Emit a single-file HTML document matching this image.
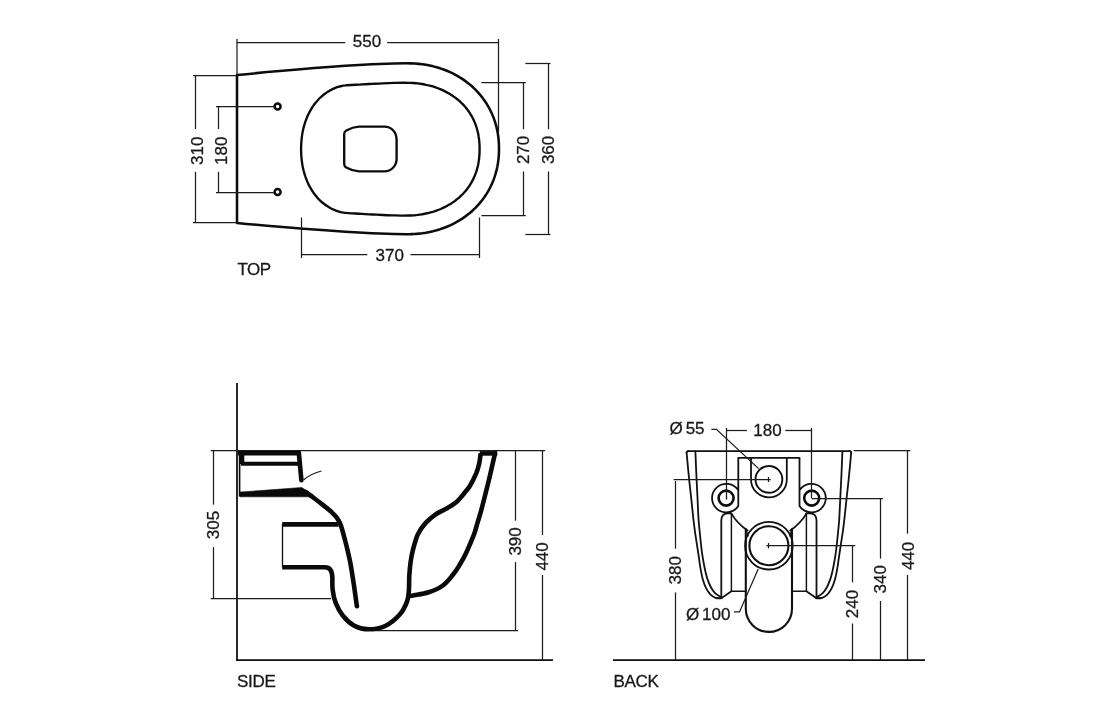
<!DOCTYPE html>
<html><head><meta charset="utf-8"><title>WC technical drawing</title>
<style>
html,body{margin:0;padding:0;background:#fff;}
body{width:1120px;height:721px;overflow:hidden;}
svg{display:block;}
text{font-family:"Liberation Sans",sans-serif;fill:#181818;stroke:#181818;stroke-width:0.3px;}
svg{will-change:transform;}
</style></head><body>
<svg width="1120" height="721" viewBox="0 0 1120 721">
<rect width="1120" height="721" fill="#ffffff"/>
<path d="M237,75 Q356.4,63.3 406.5,63.3 L410.74,63.36 L414.69,63.55 L418.54,63.86 L422.31,64.30 L426.01,64.86 L429.64,65.55 L433.22,66.36 L436.73,67.29 L440.17,68.34 L443.55,69.51 L446.87,70.79 L450.10,72.19 L453.27,73.71 L456.35,75.34 L459.35,77.07 L462.26,78.92 L465.09,80.87 L467.82,82.92 L470.46,85.07 L473.00,87.32 L475.43,89.67 L477.76,92.10 L479.98,94.63 L482.09,97.24 L484.09,99.93 L485.97,102.70 L487.73,105.55 L489.37,108.47 L490.89,111.46 L492.28,114.52 L493.55,117.64 L494.68,120.83 L495.69,124.07 L496.56,127.37 L497.31,130.73 L497.92,134.15 L498.39,137.63 L498.73,141.18 L498.93,144.84 L499.00,148.75 L498.93,152.66 L498.73,156.32 L498.39,159.87 L497.92,163.35 L497.31,166.77 L496.56,170.13 L495.69,173.43 L494.68,176.67 L493.55,179.86 L492.28,182.98 L490.89,186.04 L489.37,189.03 L487.73,191.95 L485.97,194.80 L484.09,197.57 L482.09,200.26 L479.98,202.87 L477.76,205.40 L475.43,207.83 L473.00,210.18 L470.46,212.43 L467.82,214.58 L465.09,216.63 L462.26,218.58 L459.35,220.43 L456.35,222.16 L453.27,223.79 L450.10,225.31 L446.87,226.71 L443.55,227.99 L440.17,229.16 L436.73,230.21 L433.22,231.14 L429.64,231.95 L426.01,232.64 L422.31,233.20 L418.54,233.64 L414.69,233.95 L410.74,234.14 L406.50,234.20 Q356.4,234.2 237,223 Z" stroke="#0c0c0c" stroke-width="2.55" fill="none" stroke-linejoin="round" stroke-linecap="round"/>
<path d="M301.1,149.1 C301.1,147.7 301.1,146.1 301.2,144.7 C301.2,143.3 301.3,141.9 301.5,140.6 C301.6,139.2 301.7,137.9 301.9,136.6 C302.1,135.3 302.3,134.0 302.5,132.7 C302.7,131.4 303.0,130.2 303.3,128.9 C303.6,127.7 303.9,126.4 304.3,125.2 C304.6,124.0 305.0,122.8 305.4,121.6 C305.8,120.5 306.2,119.3 306.7,118.2 C307.1,117.1 307.6,115.9 308.1,114.9 C308.6,113.8 309.2,112.7 309.7,111.7 C310.3,110.6 310.9,109.6 311.5,108.6 C312.1,107.6 312.7,106.7 313.4,105.7 C314.0,104.8 314.7,103.9 315.4,103.0 C316.1,102.1 316.9,101.2 317.6,100.4 C318.3,99.6 319.1,98.8 319.9,98.0 C320.7,97.2 321.5,96.5 322.3,95.8 C323.1,95.1 324.0,94.4 324.9,93.8 C325.7,93.1 326.6,92.5 327.5,92.0 C328.4,91.4 329.3,90.8 330.2,90.3 C331.2,89.8 332.1,89.4 333.1,88.9 C334.0,88.5 335.0,88.1 336.0,87.7 C337.0,87.3 338.0,87.0 339.0,86.7 C340.0,86.4 341.0,86.2 342.1,85.9 C343.1,85.7 341.9,85.6 345.3,85.4 C348.6,85.1 357.4,84.7 362.0,84.4 C366.6,84.1 369.1,84.0 372.6,83.8 C376.1,83.6 379.3,83.4 383.0,83.3 C386.7,83.2 391.3,83.0 394.8,82.9 C398.3,82.8 401.5,82.7 403.9,82.7 C406.3,82.7 407.4,82.7 409.0,82.8 C410.6,82.8 412.1,82.9 413.5,83.0 C415.0,83.1 416.4,83.3 417.8,83.4 C419.2,83.6 420.6,83.8 421.9,84.0 C423.3,84.2 424.6,84.5 425.9,84.8 C427.2,85.0 428.5,85.3 429.8,85.7 C431.1,86.0 432.3,86.4 433.6,86.7 C434.8,87.1 436.0,87.5 437.2,88.0 C438.4,88.4 439.6,88.9 440.7,89.3 C441.9,89.8 443.0,90.3 444.1,90.9 C445.2,91.4 446.3,92.0 447.4,92.6 C448.4,93.1 449.5,93.8 450.5,94.4 C451.5,95.0 452.5,95.7 453.5,96.4 C454.5,97.0 455.4,97.8 456.3,98.5 C457.3,99.2 458.2,100.0 459.1,100.7 C459.9,101.5 460.8,102.3 461.6,103.1 C462.5,103.9 463.3,104.8 464.0,105.6 C464.8,106.5 465.6,107.4 466.3,108.2 C467.0,109.1 467.7,110.1 468.4,111.0 C469.0,111.9 469.7,112.9 470.3,113.9 C470.9,114.8 471.5,115.8 472.0,116.8 C472.6,117.9 473.1,118.9 473.6,119.9 C474.1,121.0 474.6,122.0 475.0,123.1 C475.4,124.2 475.8,125.3 476.2,126.4 C476.6,127.5 476.9,128.7 477.2,129.8 C477.6,131.0 477.8,132.1 478.1,133.3 C478.3,134.5 478.6,135.7 478.7,136.9 C478.9,138.2 479.1,139.4 479.2,140.7 C479.3,142.0 479.4,143.2 479.5,144.7 C479.6,146.1 479.6,147.7 479.6,149.1 C479.6,150.6 479.6,152.2 479.5,153.6 C479.4,155.1 479.3,156.3 479.2,157.6 C479.1,158.9 478.9,160.1 478.7,161.4 C478.6,162.6 478.3,163.8 478.1,165.0 C477.8,166.2 477.6,167.3 477.2,168.5 C476.9,169.6 476.6,170.8 476.2,171.9 C475.8,173.0 475.4,174.1 475.0,175.2 C474.6,176.3 474.1,177.3 473.6,178.4 C473.1,179.4 472.6,180.4 472.0,181.5 C471.5,182.5 470.9,183.5 470.3,184.4 C469.7,185.4 469.0,186.4 468.4,187.3 C467.7,188.2 467.0,189.2 466.3,190.1 C465.6,190.9 464.8,191.8 464.0,192.7 C463.3,193.5 462.5,194.4 461.6,195.2 C460.8,196.0 459.9,196.8 459.1,197.6 C458.2,198.3 457.3,199.1 456.3,199.8 C455.4,200.5 454.5,201.3 453.5,201.9 C452.5,202.6 451.5,203.3 450.5,203.9 C449.5,204.5 448.4,205.2 447.4,205.7 C446.3,206.3 445.2,206.9 444.1,207.4 C443.0,208.0 441.9,208.5 440.7,209.0 C439.6,209.4 438.4,209.9 437.2,210.3 C436.0,210.8 434.8,211.2 433.6,211.6 C432.3,211.9 431.1,212.3 429.8,212.6 C428.5,213.0 427.2,213.3 425.9,213.5 C424.6,213.8 423.3,214.1 421.9,214.3 C420.6,214.5 419.2,214.7 417.8,214.9 C416.4,215.0 415.0,215.2 413.5,215.3 C412.1,215.4 410.6,215.5 409.0,215.5 C407.4,215.6 406.3,215.6 403.9,215.6 C401.5,215.6 398.3,215.5 394.8,215.4 C391.3,215.3 386.7,215.2 383.0,215.0 C379.3,214.8 376.1,214.7 372.6,214.5 C369.1,214.3 366.6,214.2 362.0,213.9 C357.4,213.6 348.6,213.2 345.3,212.9 C341.9,212.7 343.1,212.6 342.1,212.4 C341.0,212.1 340.0,211.9 339.0,211.6 C338.0,211.3 337.0,211.0 336.0,210.6 C335.0,210.2 334.0,209.8 333.1,209.4 C332.1,208.9 331.2,208.5 330.2,208.0 C329.3,207.5 328.4,206.9 327.5,206.3 C326.6,205.8 325.7,205.2 324.9,204.5 C324.0,203.9 323.1,203.2 322.3,202.5 C321.5,201.8 320.7,201.1 319.9,200.3 C319.1,199.5 318.3,198.7 317.6,197.9 C316.9,197.1 316.1,196.2 315.4,195.3 C314.7,194.4 314.0,193.5 313.4,192.6 C312.7,191.6 312.1,190.7 311.5,189.7 C310.9,188.7 310.3,187.7 309.7,186.6 C309.2,185.6 308.6,184.5 308.1,183.4 C307.6,182.4 307.1,181.2 306.7,180.1 C306.2,179.0 305.8,177.8 305.4,176.7 C305.0,175.5 304.6,174.3 304.3,173.1 C303.9,171.9 303.6,170.6 303.3,169.4 C303.0,168.1 302.7,166.9 302.5,165.6 C302.3,164.3 302.1,163.0 301.9,161.7 C301.7,160.4 301.6,159.1 301.5,157.7 C301.3,156.4 301.2,155.0 301.2,153.6 C301.1,152.2 301.1,150.6 301.1,149.1 Z" stroke="#0c0c0c" stroke-width="2.35" fill="none" stroke-linejoin="round" stroke-linecap="round"/>
<path d="M358.9,126.6 L384.4,126.6 C391.2,126.6 396.6,132 396.6,140 L396.6,158.8 C396.6,166 391.2,171.4 384.4,171.4 L358.9,171.4 C354,171.2 350,169.6 346.3,167.5 C344.8,166.6 344.2,165.8 344.2,164 L344.2,134 C344.2,132.2 344.8,131.4 346.3,130.5 C350,128.4 354,126.8 358.9,126.6 Z" stroke="#0c0c0c" stroke-width="2.35" fill="none" stroke-linejoin="round" stroke-linecap="round"/>
<circle cx="277.6" cy="106.6" r="3.0" stroke="#0c0c0c" stroke-width="2.5" fill="none"/>
<circle cx="277.6" cy="192" r="3.0" stroke="#0c0c0c" stroke-width="2.5" fill="none"/>
<line x1="237.0" y1="39.0" x2="237.0" y2="75.0" stroke="#1c1c1c" stroke-width="1.25" fill="none"/>
<line x1="498.5" y1="39.0" x2="498.5" y2="133.0" stroke="#1c1c1c" stroke-width="1.25" fill="none"/>
<line x1="237.0" y1="42.5" x2="345.2" y2="42.5" stroke="#1c1c1c" stroke-width="1.25" fill="none"/>
<line x1="387.2" y1="42.5" x2="498.5" y2="42.5" stroke="#1c1c1c" stroke-width="1.25" fill="none"/>
<text x="367.0" y="47.1" text-anchor="middle" font-size="17">550</text>
<line x1="193.0" y1="75.5" x2="237.0" y2="75.5" stroke="#1c1c1c" stroke-width="1.25" fill="none"/>
<line x1="193.0" y1="222.5" x2="237.0" y2="222.5" stroke="#1c1c1c" stroke-width="1.25" fill="none"/>
<line x1="195.5" y1="75.3" x2="195.5" y2="129.0" stroke="#1c1c1c" stroke-width="1.25" fill="none"/>
<line x1="195.5" y1="171.8" x2="195.5" y2="222.9" stroke="#1c1c1c" stroke-width="1.25" fill="none"/>
<text x="203.0" y="150.8" transform="rotate(-90 203.0 150.8)" text-anchor="middle" font-size="17">310</text>
<line x1="216.0" y1="106.5" x2="274.0" y2="106.5" stroke="#1c1c1c" stroke-width="1.25" fill="none"/>
<line x1="216.0" y1="192.5" x2="274.0" y2="192.5" stroke="#1c1c1c" stroke-width="1.25" fill="none"/>
<line x1="218.5" y1="106.6" x2="218.5" y2="129.0" stroke="#1c1c1c" stroke-width="1.25" fill="none"/>
<line x1="218.5" y1="171.8" x2="218.5" y2="192.0" stroke="#1c1c1c" stroke-width="1.25" fill="none"/>
<text x="226.6" y="150.8" transform="rotate(-90 226.6 150.8)" text-anchor="middle" font-size="17">180</text>
<line x1="481.4" y1="82.5" x2="525.7" y2="82.5" stroke="#1c1c1c" stroke-width="1.25" fill="none"/>
<line x1="481.4" y1="215.5" x2="525.7" y2="215.5" stroke="#1c1c1c" stroke-width="1.25" fill="none"/>
<line x1="523.5" y1="82.7" x2="523.5" y2="129.2" stroke="#1c1c1c" stroke-width="1.25" fill="none"/>
<line x1="523.5" y1="171.5" x2="523.5" y2="215.3" stroke="#1c1c1c" stroke-width="1.25" fill="none"/>
<text x="529.2" y="149.9" transform="rotate(-90 529.2 149.9)" text-anchor="middle" font-size="17">270</text>
<line x1="525.4" y1="63.5" x2="550.4" y2="63.5" stroke="#1c1c1c" stroke-width="1.25" fill="none"/>
<line x1="525.4" y1="234.5" x2="550.4" y2="234.5" stroke="#1c1c1c" stroke-width="1.25" fill="none"/>
<line x1="548.5" y1="63.4" x2="548.5" y2="129.2" stroke="#1c1c1c" stroke-width="1.25" fill="none"/>
<line x1="548.5" y1="171.5" x2="548.5" y2="234.2" stroke="#1c1c1c" stroke-width="1.25" fill="none"/>
<text x="554.3" y="149.9" transform="rotate(-90 554.3 149.9)" text-anchor="middle" font-size="17">360</text>
<line x1="301.5" y1="217.5" x2="301.5" y2="258.0" stroke="#1c1c1c" stroke-width="1.25" fill="none"/>
<line x1="479.5" y1="217.5" x2="479.5" y2="258.0" stroke="#1c1c1c" stroke-width="1.25" fill="none"/>
<line x1="301.4" y1="254.5" x2="367.3" y2="254.5" stroke="#1c1c1c" stroke-width="1.25" fill="none"/>
<line x1="410.5" y1="254.5" x2="479.5" y2="254.5" stroke="#1c1c1c" stroke-width="1.25" fill="none"/>
<text x="389.7" y="260.5" text-anchor="middle" font-size="17">370</text>
<text x="237.6" y="275.3" font-size="17" letter-spacing="-0.6">TOP</text>
<line x1="237.0" y1="383.0" x2="237.0" y2="661.0" stroke="#111" stroke-width="1.8" fill="none"/>
<line x1="236.2" y1="660.2" x2="553.0" y2="660.2" stroke="#111" stroke-width="1.8" fill="none"/>
<line x1="210.7" y1="450.5" x2="545.0" y2="450.5" stroke="#1c1c1c" stroke-width="1.25" fill="none"/>
<line x1="213.5" y1="450.7" x2="213.5" y2="504.6" stroke="#1c1c1c" stroke-width="1.25" fill="none"/>
<line x1="213.5" y1="547.1" x2="213.5" y2="598.1" stroke="#1c1c1c" stroke-width="1.25" fill="none"/>
<line x1="210.7" y1="598.5" x2="331.0" y2="598.5" stroke="#1c1c1c" stroke-width="1.25" fill="none"/>
<text x="218.9" y="525.0" transform="rotate(-90 218.9 525.0)" text-anchor="middle" font-size="17">305</text>
<line x1="515.5" y1="450.7" x2="515.5" y2="520.7" stroke="#1c1c1c" stroke-width="1.25" fill="none"/>
<line x1="515.5" y1="562.1" x2="515.5" y2="631.0" stroke="#1c1c1c" stroke-width="1.25" fill="none"/>
<line x1="371.0" y1="630.5" x2="518.0" y2="630.5" stroke="#1c1c1c" stroke-width="1.25" fill="none"/>
<text x="521.3" y="541.4" transform="rotate(-90 521.3 541.4)" text-anchor="middle" font-size="17">390</text>
<line x1="542.5" y1="450.7" x2="542.5" y2="535.0" stroke="#1c1c1c" stroke-width="1.25" fill="none"/>
<line x1="542.5" y1="575.0" x2="542.5" y2="660.0" stroke="#1c1c1c" stroke-width="1.25" fill="none"/>
<text x="547.9" y="556.4" transform="rotate(-90 547.9 556.4)" text-anchor="middle" font-size="17">440</text>
<path d="M238,453.3 L299,453.3" stroke="#0a0a0a" stroke-width="4.6" fill="none" stroke-linejoin="miter" stroke-linecap="butt"/>
<path d="M241,463.7 L298.6,463.7" stroke="#0a0a0a" stroke-width="4" fill="none"/>
<path d="M242,453 L242,464" stroke="#0a0a0a" stroke-width="4.6" fill="none" stroke-linejoin="miter" stroke-linecap="butt"/>
<line x1="239.6" y1="455.0" x2="239.6" y2="496.5" stroke="#0a0a0a" stroke-width="1.6" fill="none"/>
<path d="M298.8,452.5 L301.4,480.3" stroke="#0a0a0a" stroke-width="4.6" fill="none" stroke-linejoin="round" stroke-linecap="round"/>
<path d="M303.6,480 Q310,474 321.4,471" stroke="#1a1a1a" stroke-width="1.25" fill="none"/>
<path d="M240,492.1 L301.8,487.5 L313.5,495.2 L310.5,497.6 L309,496.8 L240,496.8 Z" fill="#0a0a0a" stroke="#0a0a0a" stroke-width="0.6" stroke-linejoin="round"/>
<path d="M305.5,491.9 C307.1,493.1 312.1,496.7 315.2,499.0 C318.3,501.3 321.4,503.8 324.1,505.9 C326.8,508.0 329.2,509.9 331.3,511.8 C333.4,513.8 335.3,515.7 336.7,517.6 C338.1,519.5 339.0,521.0 339.9,523.0 C340.8,525.0 341.3,526.6 342.1,529.3 C342.9,532.0 343.9,535.8 344.8,539.3 C345.7,542.8 346.6,546.2 347.5,550.1 C348.4,554.0 349.3,557.2 350.3,562.7 C351.3,568.2 352.5,575.8 353.6,583.0 C354.7,590.2 356.3,602.3 356.9,606.2" stroke="#0a0a0a" stroke-width="4.6" fill="none" stroke-linejoin="round" stroke-linecap="round"/>
<path d="M282.2,524.4 L338.5,524.4" stroke="#0a0a0a" stroke-width="4.6" fill="none" stroke-linejoin="miter" stroke-linecap="butt"/>
<line x1="282.5" y1="524.0" x2="282.5" y2="567.3" stroke="#0a0a0a" stroke-width="1.3" fill="none"/>
<path d="M282.2,567.3 L325,567.3 Q332.2,567.3 332.4,578 L332.4,578.0 C332.4,580.0 332.1,585.9 332.7,590.0 C333.2,594.1 334.0,598.6 335.7,602.9 C337.4,607.2 339.8,611.9 342.9,615.7 C346.0,619.5 350.0,623.4 354.3,625.7 C358.6,628.0 363.4,629.3 368.6,629.3 C373.8,629.3 380.5,628.2 385.7,625.7 C390.9,623.2 396.4,618.3 400.0,614.3 C403.6,610.2 405.6,605.4 407.1,601.4 C408.6,597.4 408.5,594.3 408.9,590.0 C409.3,585.7 409.0,580.4 409.3,575.7 C409.6,571.0 410.0,566.3 410.6,562.0 C411.2,557.7 411.7,554.6 412.9,550.0 C414.1,545.4 415.8,538.8 417.9,534.3 C420.0,529.8 422.7,526.2 425.7,522.9 C428.7,519.6 432.1,516.8 435.7,514.3 C439.3,511.8 443.5,510.3 447.1,508.2 C450.7,506.1 454.3,503.8 457.1,501.4 C459.9,498.9 461.9,496.1 464.0,493.5 C466.1,490.9 467.9,489.1 470.0,485.7 C472.1,482.3 474.8,476.7 476.4,472.9 C477.9,469.1 478.6,466.2 479.3,462.9 C480.0,459.6 480.5,454.9 480.7,453.3" stroke="#0a0a0a" stroke-width="4.6" fill="none" stroke-linejoin="round" stroke-linecap="butt"/>
<path d="M479.8,453.4 L497.2,453.4" stroke="#0a0a0a" stroke-width="4.6" fill="none" stroke-linecap="butt"/>
<path d="M495.0,453.5 C494.1,457.6 491.2,470.2 489.4,478.0 C487.5,485.8 485.3,494.5 483.9,500.0 C482.5,505.5 482.0,507.4 481.0,511.1 C480.0,514.8 478.8,518.5 477.7,522.2 C476.6,525.9 475.7,529.6 474.4,533.3 C473.1,537.0 471.4,540.9 469.9,544.4 C468.4,547.9 467.1,551.0 465.5,554.3 C463.9,557.6 462.0,561.0 460.0,564.3 C458.0,567.6 456.2,570.8 453.3,574.3 C450.4,577.8 447.0,582.5 442.9,585.5 C438.8,588.5 433.4,590.7 428.6,592.3 C423.8,593.9 417.6,594.6 414.3,595.2 C411.0,595.8 409.9,595.9 409.0,596.0" stroke="#0a0a0a" stroke-width="4.6" fill="none" stroke-linejoin="round" stroke-linecap="round"/>
<text x="237" y="687.2" font-size="17" letter-spacing="-0.3">SIDE</text>
<line x1="613.0" y1="660.2" x2="925.0" y2="660.2" stroke="#111" stroke-width="1.8" fill="none"/>
<path d="M688,451.2 L849.8,451.2" stroke="#111" stroke-width="1.8" fill="none" stroke-linejoin="round" stroke-linecap="round"/>
<path d="M686.6,452.5 C687.0,457.1 688.4,472.1 689.2,480.0 C690.0,487.9 690.7,493.3 691.4,500.0 C692.1,506.7 692.9,514.7 693.5,520.0 C694.1,525.3 694.5,527.9 695.0,531.8 C695.5,535.7 696.2,539.7 696.8,543.6 C697.4,547.5 698.0,551.5 698.6,555.4 C699.2,559.3 699.6,563.3 700.3,567.2 C701.0,571.1 701.7,575.4 702.7,578.9 C703.7,582.4 704.9,585.8 706.2,588.4 C707.5,591.0 708.7,592.7 710.3,594.3 C711.9,595.9 713.8,597.1 715.6,597.8 C717.4,598.5 720.3,598.3 721.3,598.4" stroke="#111" stroke-width="1.8" fill="none" stroke-linejoin="round" stroke-linecap="round"/>
<path d="M851.2,452.5 C850.8,457.1 849.4,472.1 848.6,480.0 C847.8,487.9 847.1,493.3 846.4,500.0 C845.7,506.7 844.9,514.7 844.3,520.0 C843.7,525.3 843.3,527.9 842.8,531.8 C842.2,535.7 841.6,539.7 841.0,543.6 C840.4,547.5 839.8,551.5 839.2,555.4 C838.6,559.3 838.2,563.3 837.5,567.2 C836.8,571.1 836.1,575.4 835.1,578.9 C834.1,582.4 832.9,585.8 831.6,588.4 C830.3,591.0 829.1,592.7 827.5,594.3 C825.9,595.9 824.0,597.1 822.2,597.8 C820.4,598.5 817.5,598.3 816.5,598.4" stroke="#111" stroke-width="1.8" fill="none" stroke-linejoin="round" stroke-linecap="round"/>
<path d="M695.4,451.5 C695.6,456.2 696.2,471.9 696.6,480.0 C697.0,488.1 697.3,493.3 697.6,500.0 C697.9,506.7 698.2,514.7 698.6,520.0 C699.0,525.3 699.3,527.9 699.7,531.8 C700.1,535.7 700.5,539.7 700.9,543.6 C701.3,547.5 701.8,551.5 702.4,555.4 C703.0,559.3 703.7,563.3 704.5,567.2 C705.3,571.1 706.3,575.6 707.4,578.9 C708.5,582.2 709.6,584.8 710.9,587.2 C712.2,589.6 713.4,591.4 715.1,593.1 C716.8,594.8 720.3,596.7 721.3,597.4" stroke="#111" stroke-width="1.8" fill="none" stroke-linejoin="round" stroke-linecap="round"/>
<path d="M842.4,451.5 C842.2,456.2 841.6,471.9 841.2,480.0 C840.8,488.1 840.5,493.3 840.2,500.0 C839.9,506.7 839.5,514.7 839.2,520.0 C838.8,525.3 838.5,527.9 838.1,531.8 C837.7,535.7 837.3,539.7 836.9,543.6 C836.5,547.5 836.0,551.5 835.4,555.4 C834.8,559.3 834.1,563.3 833.3,567.2 C832.5,571.1 831.5,575.6 830.4,578.9 C829.3,582.2 828.2,584.8 826.9,587.2 C825.6,589.6 824.4,591.4 822.7,593.1 C821.0,594.8 817.5,596.7 816.5,597.4" stroke="#111" stroke-width="1.8" fill="none" stroke-linejoin="round" stroke-linecap="round"/>
<path d="M686.6,452.8 Q686.6,451.2 688.4,451.2" stroke="#111" stroke-width="1.8" fill="none" stroke-linejoin="round" stroke-linecap="round"/>
<path d="M851.2,452.8 Q851.2,451.2 849.4,451.2" stroke="#111" stroke-width="1.8" fill="none" stroke-linejoin="round" stroke-linecap="round"/>
<path d="M738.3,457.9 L799.5,457.9" stroke="#111" stroke-width="1.8" fill="none" stroke-linejoin="round" stroke-linecap="round"/>
<path d="M738.3,457.9 L738.3,505.9 A14.3,14.3 0 1 1 738.3,490.3" stroke="#111" stroke-width="1.8" fill="none" stroke-linejoin="round" stroke-linecap="butt"/>
<circle cx="726.1" cy="498.1" r="7.5" stroke="#0c0c0c" stroke-width="2.6" fill="none"/>
<path d="M731.4,513.6 Q737.5,523.8 747.6,530.5" stroke="#111" stroke-width="1.8" fill="none" stroke-linejoin="round" stroke-linecap="round"/>
<path d="M721.3,598.2 L721.3,520.5 Q721.5,513.4 727.5,513.4 L731.4,513.4" stroke="#111" stroke-width="1.8" fill="none" stroke-linejoin="round" stroke-linecap="round"/>
<path d="M731.4,513.4 L731.4,591.2 L745.8,591.2" stroke="#111" stroke-width="1.45" fill="none" stroke-linejoin="round" stroke-linecap="round"/>
<path d="M731.4,591.2 L721.3,598.2 L716.8,598.2" stroke="#111" stroke-width="1.8" fill="none" stroke-linejoin="round" stroke-linecap="round"/>
<path d="M745.8,529 L748.3,536.5" stroke="#111" stroke-width="1.1" fill="none"/>
<path d="M799.5,457.9 L799.5,505.9 A14.3,14.3 0 1 0 799.5,490.3" stroke="#111" stroke-width="1.8" fill="none" stroke-linejoin="round" stroke-linecap="butt"/>
<circle cx="811.7" cy="498.1" r="7.5" stroke="#0c0c0c" stroke-width="2.6" fill="none"/>
<path d="M806.4,513.6 Q800.3,523.8 790.2,530.5" stroke="#111" stroke-width="1.8" fill="none" stroke-linejoin="round" stroke-linecap="round"/>
<path d="M816.5,598.2 L816.5,520.5 Q816.3,513.4 810.3,513.4 L806.4,513.4" stroke="#111" stroke-width="1.8" fill="none" stroke-linejoin="round" stroke-linecap="round"/>
<path d="M806.4,513.4 L806.4,591.2 L792.0,591.2" stroke="#111" stroke-width="1.45" fill="none" stroke-linejoin="round" stroke-linecap="round"/>
<path d="M806.4,591.2 L816.5,598.2 L821.0,598.2" stroke="#111" stroke-width="1.8" fill="none" stroke-linejoin="round" stroke-linecap="round"/>
<path d="M792.0,529 L789.5,536.5" stroke="#111" stroke-width="1.1" fill="none"/>
<path d="M751,457.9 L751,479.4 A17.9,17.9 0 0 0 786.8,479.4 L786.8,457.9" stroke="#111" stroke-width="1.8" fill="none" stroke-linejoin="round" stroke-linecap="round"/>
<circle cx="768.9" cy="479.4" r="13.4" stroke="#111" stroke-width="1.9" fill="none"/>
<circle cx="768.9" cy="545.7" r="23.8" stroke="#111" stroke-width="1.8" fill="none"/>
<circle cx="768.9" cy="545.7" r="19.5" stroke="#111" stroke-width="2.1" fill="none"/>
<path d="M745.8,529 L745.8,608.8 A23.10,23.10 0 0 0 792.0,608.8 L792.0,529" stroke="#111" stroke-width="2.1" fill="none" stroke-linejoin="round" stroke-linecap="round"/>
<line x1="726.5" y1="427.9" x2="726.5" y2="498.4" stroke="#1c1c1c" stroke-width="1.25" fill="none"/>
<line x1="811.5" y1="427.9" x2="811.5" y2="498.4" stroke="#1c1c1c" stroke-width="1.25" fill="none"/>
<line x1="726.4" y1="430.5" x2="746.9" y2="430.5" stroke="#1c1c1c" stroke-width="1.25" fill="none"/>
<line x1="785.3" y1="430.5" x2="811.8" y2="430.5" stroke="#1c1c1c" stroke-width="1.25" fill="none"/>
<text x="767.5" y="436.2" text-anchor="middle" font-size="17">180</text>
<text x="669.6" y="433.8" font-size="17">&#216;<tspan dx="2.8">55</tspan></text>
<path d="M711.4,429.3 L716.4,429.3 L758.6,468.6" stroke="#1c1c1c" stroke-width="1.25" fill="none"/>
<line x1="673.6" y1="479.5" x2="770.7" y2="479.5" stroke="#1c1c1c" stroke-width="1.25" fill="none"/>
<line x1="768.5" y1="477.0" x2="768.5" y2="482.0" stroke="#1c1c1c" stroke-width="1.25" fill="none"/>
<line x1="675.5" y1="481.0" x2="675.5" y2="548.7" stroke="#1c1c1c" stroke-width="1.25" fill="none"/>
<line x1="675.5" y1="592.4" x2="675.5" y2="660.0" stroke="#1c1c1c" stroke-width="1.25" fill="none"/>
<text x="681.2" y="570.2" transform="rotate(-90 681.2 570.2)" text-anchor="middle" font-size="17">380</text>
<line x1="726.5" y1="497.0" x2="726.5" y2="499.6" stroke="#1c1c1c" stroke-width="1.25" fill="none"/>
<line x1="812.0" y1="498.5" x2="882.9" y2="498.5" stroke="#1c1c1c" stroke-width="1.25" fill="none"/>
<line x1="880.5" y1="498.3" x2="880.5" y2="558.6" stroke="#1c1c1c" stroke-width="1.25" fill="none"/>
<line x1="880.5" y1="601.0" x2="880.5" y2="660.0" stroke="#1c1c1c" stroke-width="1.25" fill="none"/>
<text x="885.8" y="579.2" transform="rotate(-90 885.8 579.2)" text-anchor="middle" font-size="17">340</text>
<line x1="766.4" y1="545.5" x2="855.3" y2="545.5" stroke="#1c1c1c" stroke-width="1.25" fill="none"/>
<line x1="768.5" y1="543.0" x2="768.5" y2="548.4" stroke="#1c1c1c" stroke-width="1.25" fill="none"/>
<line x1="852.5" y1="545.7" x2="852.5" y2="582.3" stroke="#1c1c1c" stroke-width="1.25" fill="none"/>
<line x1="852.5" y1="623.5" x2="852.5" y2="660.0" stroke="#1c1c1c" stroke-width="1.25" fill="none"/>
<text x="858.0" y="604.0" transform="rotate(-90 858.0 604.0)" text-anchor="middle" font-size="17">240</text>
<line x1="853.6" y1="450.5" x2="910.3" y2="450.5" stroke="#1c1c1c" stroke-width="1.25" fill="none"/>
<line x1="907.5" y1="451.0" x2="907.5" y2="533.7" stroke="#1c1c1c" stroke-width="1.25" fill="none"/>
<line x1="907.5" y1="574.9" x2="907.5" y2="660.0" stroke="#1c1c1c" stroke-width="1.25" fill="none"/>
<text x="913.6" y="555.9" transform="rotate(-90 913.6 555.9)" text-anchor="middle" font-size="17">440</text>
<text x="686.0" y="619.9" font-size="17">&#216;<tspan dx="2.8">100</tspan></text>
<path d="M734,611.9 L739.5,611.9 L758.2,569" stroke="#1c1c1c" stroke-width="1.25" fill="none"/>
<text x="613.4" y="687.3" font-size="17" letter-spacing="-0.3">BACK</text>
</svg>
</body></html>
